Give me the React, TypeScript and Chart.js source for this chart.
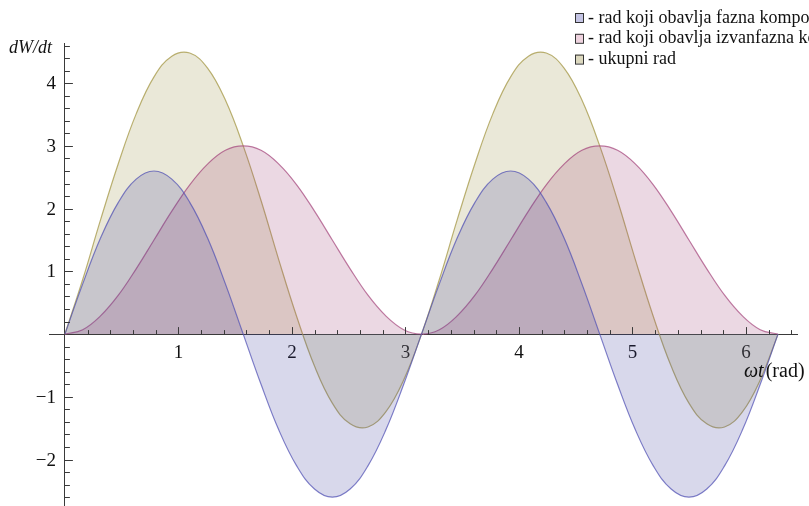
import React, { useEffect, useRef } from "react";
import { Chart, registerables } from "chart.js";

Chart.register(...registerables);

// x positions (rad), step pi/20
const omegaT = [
  0, 0.157, 0.314, 0.471, 0.628, 0.785, 0.942, 1.1, 1.257, 1.414, 1.571, 1.728, 1.885, 2.042,
  2.199, 2.356, 2.513, 2.67, 2.827, 2.985, 3.142, 3.299, 3.456, 3.613, 3.77, 3.927, 4.084, 4.241,
  4.398, 4.555, 4.712, 4.869, 5.027, 5.184, 5.341, 5.498, 5.655, 5.812, 5.969, 6.126, 6.283,
];

// rad koji obavlja fazna komponenta
const inPhaseWork = [
  0, 0.8, 1.53, 2.1, 2.47, 2.6, 2.47, 2.1, 1.53, 0.8, 0, -0.8, -1.53, -2.1, -2.47, -2.6, -2.47,
  -2.1, -1.53, -0.8, 0, 0.8, 1.53, 2.1, 2.47, 2.6, 2.47, 2.1, 1.53, 0.8, 0, -0.8, -1.53, -2.1,
  -2.47, -2.6, -2.47, -2.1, -1.53, -0.8, 0,
];

// rad koji obavlja izvanfazna komponenta
const outPhaseWork = [
  0, 0.07, 0.29, 0.62, 1.04, 1.5, 1.96, 2.38, 2.71, 2.93, 3.0, 2.93, 2.71, 2.38, 1.96, 1.5, 1.04,
  0.62, 0.29, 0.07, 0, 0.07, 0.29, 0.62, 1.04, 1.5, 1.96, 2.38, 2.71, 2.93, 3.0, 2.93, 2.71, 2.38,
  1.96, 1.5, 1.04, 0.62, 0.29, 0.07, 0,
];

// ukupni rad
const totalWork = [
  0, 0.87, 1.82, 2.72, 3.51, 4.1, 4.43, 4.48, 4.24, 3.73, 3.0, 2.13, 1.18, 0.28, -0.51, -1.1,
  -1.43, -1.48, -1.24, -0.73, 0, 0.87, 1.82, 2.72, 3.51, 4.1, 4.43, 4.48, 4.24, 3.73, 3.0, 2.13,
  1.18, 0.28, -0.51, -1.1, -1.43, -1.48, -1.24, -0.73, 0,
];

const xTickLabels = [1, 2, 3, 4, 5, 6];
const yTickLabels = [-2, -1, 1, 2, 3, 4];

const seriesNames = [
  "- rad koji obavlja fazna komponenta",
  "- rad koji obavlja izvanfazna komponenta",
  "- ukupni rad",
];

const lineColors = ["rgba(80,80,180,0.72)", "rgba(165,70,125,0.72)", "rgba(170,158,80,0.8)"];
const fillColors = ["rgba(61,61,153,0.2)", "rgba(153,61,115,0.2)", "rgba(150,140,60,0.2)"];
const swatchColors = ["rgb(196,196,228)", "rgb(238,210,222)", "rgb(220,216,190)"];

const SERIF = "'Liberation Serif', 'DejaVu Serif', serif";
const AXIS_COLOR = "#3a3a3a";

const fmt = (v: number) => (v < 0 ? "\u2212" + Math.abs(v) : String(v));

const decorPlugin = {
  id: "decor",
  afterDraw(chart: any) {
    const ctx = chart.ctx;
    const xs = chart.scales.x;
    const ys = chart.scales.y;
    const x0 = xs.getPixelForValue(0);
    const y0 = ys.getPixelForValue(0);
    ctx.save();
    ctx.strokeStyle = AXIS_COLOR;
    ctx.lineWidth = 1;
    // x ticks (pointing up)
    for (let i = 1; i <= 32; i++) {
      const v = i * 0.2;
      if (v > xs.max) break;
      const major = i % 5 === 0;
      const px = Math.round(xs.getPixelForValue(v)) + 0.5;
      ctx.beginPath();
      ctx.moveTo(px, y0);
      ctx.lineTo(px, y0 - (major ? 7 : 4));
      ctx.stroke();
    }
    // y ticks (pointing right)
    for (let i = -14; i <= 24; i++) {
      if (i === 0) continue;
      const v = i * 0.2;
      if (v > ys.max || v < ys.min) continue;
      const major = i % 5 === 0;
      const py = Math.round(ys.getPixelForValue(v)) + 0.5;
      ctx.beginPath();
      ctx.moveTo(x0, py);
      ctx.lineTo(x0 + (major ? 8 : 5), py);
      ctx.stroke();
    }
    // y tick labels
    ctx.fillStyle = "#111";
    ctx.font = "19px " + SERIF;
    ctx.textAlign = "right";
    ctx.textBaseline = "middle";
    yTickLabels.forEach((v) => {
      ctx.fillText(fmt(v), x0 - 9, ys.getPixelForValue(v) + 1);
    });
    // axis titles
    ctx.textBaseline = "alphabetic";
    ctx.textAlign = "left";
    ctx.font = "italic 18px " + SERIF;
    ctx.fillText("dW/dt", 9, 53);
    ctx.font = "italic 20px " + SERIF;
    ctx.fillText("\u03c9t", 744, y0 + 43);
    const w = ctx.measureText("\u03c9t").width;
    ctx.font = "20px " + SERIF;
    ctx.fillText("(rad)", 744 + w + 2, y0 + 43);
    // legend
    ctx.font = "18px " + SERIF;
    seriesNames.forEach((name, i) => {
      const top = 13 + i * 20.8;
      ctx.fillStyle = swatchColors[i];
      ctx.fillRect(575, top, 8, 9);
      ctx.strokeStyle = "#333";
      ctx.strokeRect(575.5, top + 0.5, 8, 9);
      ctx.fillStyle = "#111";
      ctx.fillText(name, 588, top + 9.5);
    });
    ctx.restore();
  },
};

export default function App() {
  const canvasRef = useRef<HTMLCanvasElement | null>(null);

  useEffect(() => {
    document.body.style.margin = "0";
    const canvas = canvasRef.current;
    if (!canvas) return;
    const series = [inPhaseWork, outPhaseWork, totalWork];
    const chart = new Chart(canvas, {
      type: "line",
      data: {
        datasets: series.map((arr, i) => ({
          label: seriesNames[i],
          data: omegaT.map((x, k) => ({ x, y: arr[k] })),
          borderColor: lineColors[i],
          backgroundColor: fillColors[i],
          borderWidth: 1.2,
          pointRadius: 0,
          fill: "origin",
          tension: 0.4,
        })),
      },
      options: {
        responsive: false,
        animation: false,
        layout: { padding: { left: 49, right: 12, top: 43, bottom: -20 } },
        plugins: { legend: { display: false }, tooltip: { enabled: false } },
        scales: {
          x: {
            type: "linear",
            min: -0.14,
            max: 6.45,
            position: { y: 0 } as any,
            grid: { display: false, drawTicks: false },
            border: { display: true, color: AXIS_COLOR, width: 1 },
            afterBuildTicks: (scale: any) => {
              scale.ticks = xTickLabels.map((v) => ({ value: v }));
            },
            ticks: {
              padding: 8,
              color: "#111",
              font: { family: SERIF, size: 19 },
              callback: (v: any) => fmt(Number(v)),
              maxRotation: 0,
              autoSkip: false,
            },
          },
          y: {
            type: "linear",
            min: -2.74,
            max: 4.64,
            position: { x: 0 } as any,
            grid: { display: false, drawTicks: false },
            border: { display: true, color: AXIS_COLOR, width: 1 },
            ticks: { display: false },
          },
        },
      },
      plugins: [decorPlugin],
    });
    return () => chart.destroy();
  }, []);

  return (
    <div style={{ width: 809, height: 506 }}>
      <canvas ref={canvasRef} width={809} height={506} style={{ display: "block" }} />
    </div>
  );
}
